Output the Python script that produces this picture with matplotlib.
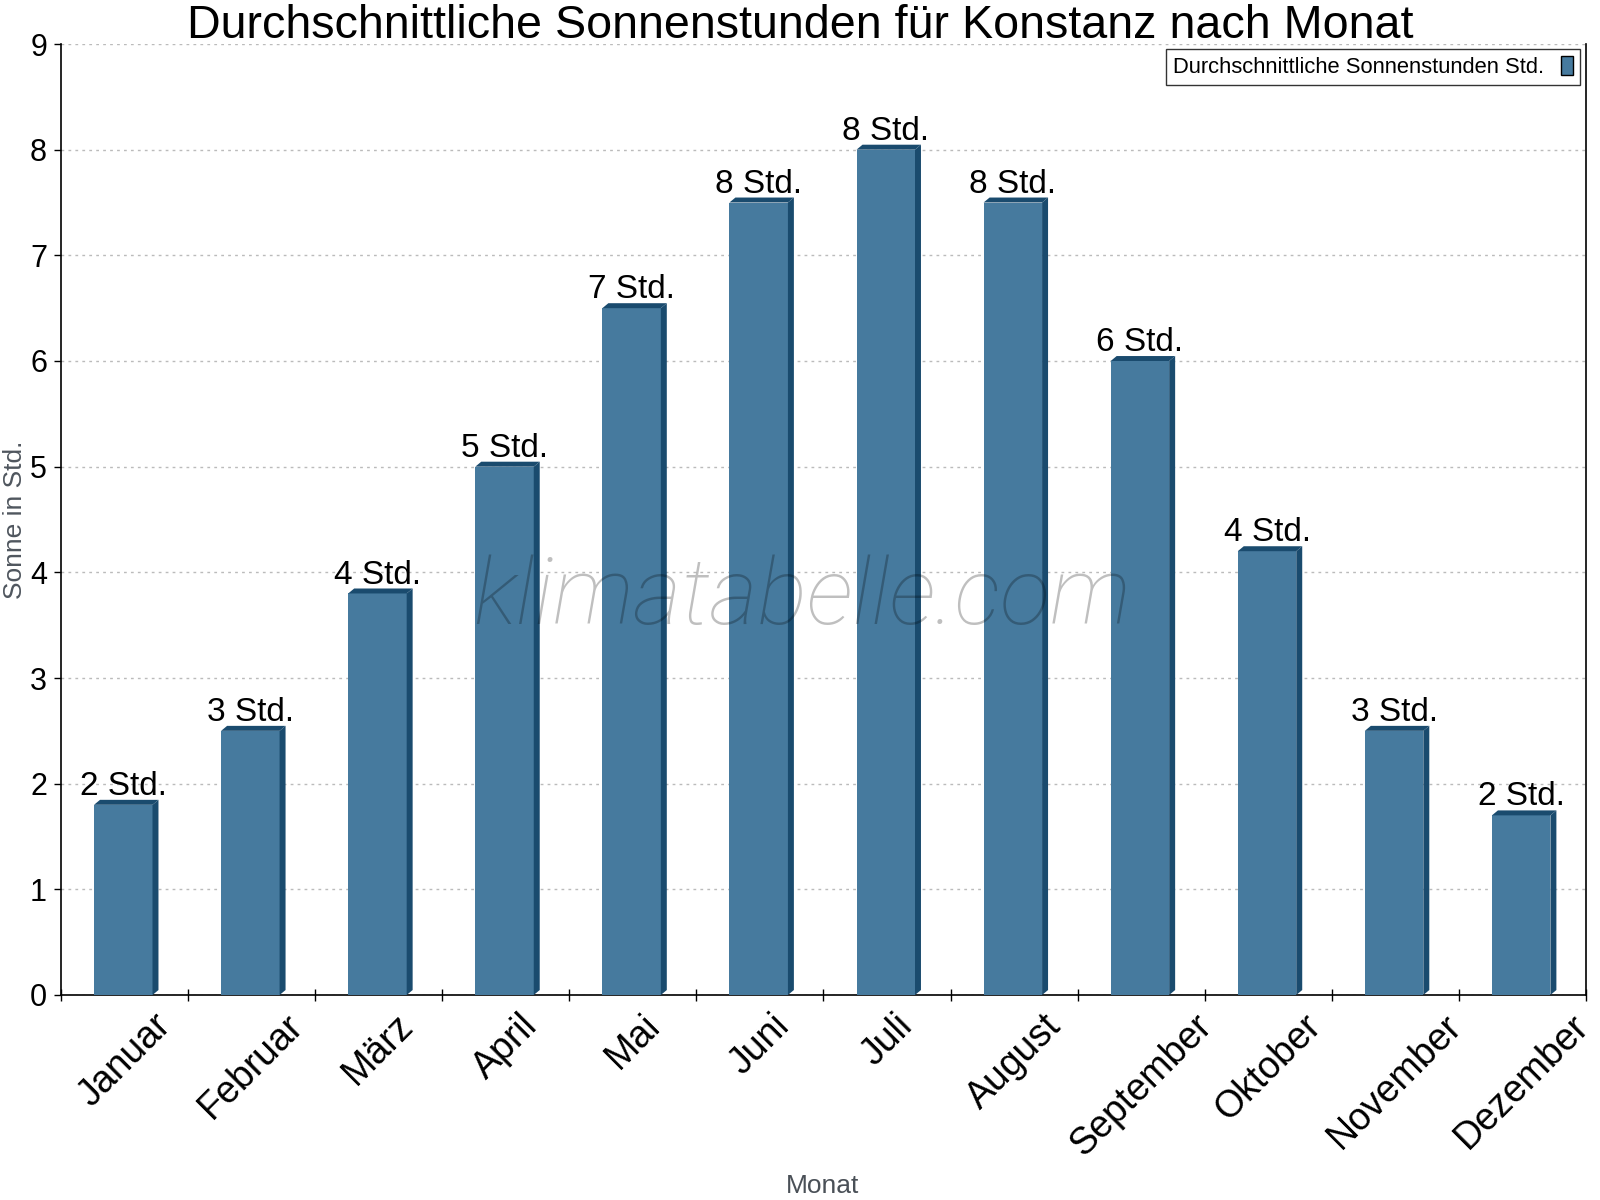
import matplotlib
matplotlib.use("Agg")
import matplotlib.pyplot as plt
from matplotlib.patches import Polygon, Rectangle

plt.rcParams["font.family"] = ["Liberation Sans", "DejaVu Sans"]

# data
months = ["Januar", "Februar", "März", "April", "Mai", "Juni", "Juli",
          "August", "September", "Oktober", "November", "Dezember"]
sun_hours = [1.8, 2.5, 3.8, 5.0, 6.5, 7.5, 8.0, 7.5, 6.0, 4.2, 2.5, 1.7]
bar_labels = ["2 Std.", "3 Std.", "4 Std.", "5 Std.", "7 Std.", "8 Std.",
              "8 Std.", "8 Std.", "6 Std.", "4 Std.", "3 Std.", "2 Std."]
y_ticks = [0, 1, 2, 3, 4, 5, 6, 7, 8, 9]

front_col = "#467a9e"
dark_col = "#1a4b6e"

fig = plt.figure(figsize=(16, 12), dpi=100)
ax = fig.add_axes([61 / 1600, 1 - 995 / 1200, 1525 / 1600, 951 / 1200])

bw = 0.46
dx, dy = 0.047, 0.047
x = [i - 0.01 for i in range(len(months))]

ax.bar(x, sun_hours, width=bw, color=front_col, zorder=3)
for xi, h, lab in zip(x, sun_hours, bar_labels):
    xl, xr = xi - bw / 2, xi + bw / 2
    side = Polygon([(xr, 0), (xr + dx, dy), (xr + dx, h + dy), (xr, h)],
                   closed=True, facecolor=dark_col, edgecolor="none", zorder=3)
    top = Polygon([(xl, h), (xl + dx, h + dy), (xr + dx, h + dy), (xr, h)],
                  closed=True, facecolor=dark_col, edgecolor="none", zorder=3)
    ax.add_patch(side)
    ax.add_patch(top)
    ax.annotate(lab, (xi, h + dy), xytext=(0, 3.6), textcoords="offset points",
                ha="center", va="baseline", fontsize=24, color="black", zorder=5)

ax.set_xlim(-0.5, len(months) - 0.5)
ax.set_ylim(0, 9)
ax.set_yticks(y_ticks)
ax.set_yticklabels([str(v) for v in y_ticks], fontsize=22)
ax.set_xticks([i + 0.5 for i in range(-1, len(months))])
ax.set_xticklabels([])
ax.tick_params(axis="x", direction="inout", length=9, width=1)
ax.tick_params(axis="y", direction="out", length=5, width=1, pad=5)
for i, m in enumerate(months):
    ax.text(i, -0.12, m, rotation=45, ha="center", va="top",
            fontsize=27, transform=ax.transData)

ax.grid(axis="y", color="#bbbbbb", linestyle=(0, (2, 3)), linewidth=1, zorder=0)
ax.spines["top"].set_visible(False)
ax.spines["right"].set_visible(True)
for s in ["left", "bottom", "right"]:
    ax.spines[s].set_linewidth(1.2)

fig.text(15 / 1600, 1 - 520 / 1200, "Sonne in Std.", rotation=90,
         ha="center", va="center", fontsize=19, color="#4f565e")
fig.text(823 / 1600, 1 - 1193 / 1200, "Monat", ha="center", va="baseline",
         fontsize=19, color="#4a5057")

fig.text(0.5, 1 - 38 / 1200,
         "Durchschnittliche Sonnenstunden für Konstanz nach Monat",
         ha="center", va="baseline", fontsize=33.6)

# legend
handle = Rectangle((0, 0), 1, 1, facecolor=front_col, edgecolor="black", linewidth=1)
leg = ax.legend([handle], ["Durchschnittliche Sonnenstunden Std."],
                loc="upper right", bbox_to_anchor=(1580 / 1600, 1 - 49 / 1200),
                bbox_transform=fig.transFigure, markerfirst=False,
                fontsize=15.8, frameon=True, fancybox=False, borderpad=0.3,
                handlelength=0.55, handleheight=1.0, handletextpad=0.8,
                borderaxespad=0)
leg.get_frame().set_edgecolor("black")
leg.get_frame().set_linewidth(1)

# watermark
fig.text(473 / 1600, 1 - 624 / 1200, "klimatabelle.com", ha="left",
         va="baseline", fontsize=67, family="Roboto", fontweight="light",
         style="italic", color="black", alpha=0.25, zorder=10)

fig.savefig("out.png", dpi=100)
